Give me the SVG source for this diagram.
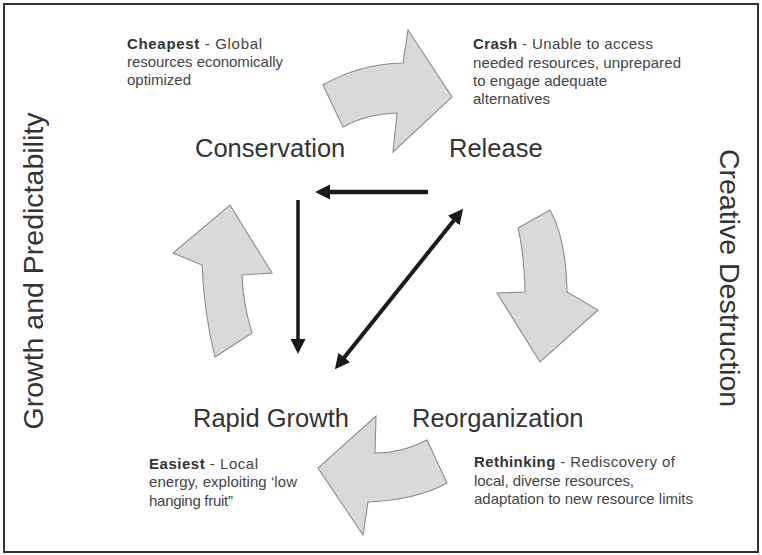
<svg xmlns="http://www.w3.org/2000/svg" width="762" height="555" viewBox="0 0 762 555">
<defs>
<style>
.big{font-family:"Liberation Sans",Arial,sans-serif;font-size:25.5px;fill:#333}
.side{font-family:"Liberation Sans",Arial,sans-serif;font-size:28.5px;fill:#333;text-anchor:middle}
.small{font-family:"Liberation Sans",Arial,sans-serif;font-size:15px;fill:#444}
.small .b{font-weight:bold;fill:#333}
.blk{fill:#d9d9d9;stroke:#8c8c8c;stroke-width:1.1;stroke-linejoin:miter}
.ln{stroke:#1a1a1a;fill:none}
</style>
<marker id="head" markerUnits="userSpaceOnUse" markerWidth="16" markerHeight="16" refX="2" refY="7.5" orient="auto-start-reverse" viewBox="0 0 16 15">
<path d="M0,0 L15,7.5 L0,15 z" fill="#1a1a1a"/>
</marker>
</defs>
<rect x="0" y="0" width="762" height="555" fill="#fff"/>
<rect x="4" y="4" width="754" height="548" fill="none" stroke="#333" stroke-width="2"/>

<g id="side-left">
<text class="side" transform="translate(43,271) rotate(-90)">Growth and Predictability</text>
</g>
<g id="side-right">
<text class="side" transform="translate(720,278) rotate(90)">Creative Destruction</text>
</g>

<g id="connectors">
<path class="blk" d="M323,85 Q359,64 403,63 L408,30 L452,97 L393,152 L397,113 Q366,114 343,127 Z"/>
<path class="blk" d="M518,228 L550,210 Q566,238 567,292 L598,310 L540,362 L497,293 L525,292 Q524,252 518,228 Z"/>
<path class="blk" d="M427,440 Q403,453 375,453 L376,416 L318,468 L363,535 L368,502 Q416,500 447,483 Z"/>
<path class="blk" d="M215,357 L252,333 Q243,304 242,275 L272,273 L230,205 L173,253 L202,265 Q204,313 215,357 Z"/>
<line class="ln" x1="428" y1="192" x2="328" y2="192" stroke-width="4.5" marker-end="url(#head)"/>
<line class="ln" x1="298" y1="200" x2="298" y2="341" stroke-width="3.5" marker-end="url(#head)"/>
<line class="ln" x1="455" y1="219" x2="343" y2="359" stroke-width="4" marker-start="url(#head)" marker-end="url(#head)"/>
</g>

<g id="conservation">
<text class="big" x="195" y="157">Conservation</text>
<text class="small" x="127" y="49" textLength="135"><tspan class="b">Cheapest</tspan> - Global</text>
<text class="small" x="127" y="67" textLength="156">resources economically</text>
<text class="small" x="127" y="85" textLength="64">optimized</text>
</g>

<g id="release">
<text class="big" x="449" y="157">Release</text>
<text class="small" x="473" y="49" textLength="180"><tspan class="b">Crash</tspan> - Unable to access</text>
<text class="small" x="473" y="67.5" textLength="208">needed resources, unprepared</text>
<text class="small" x="473" y="86" textLength="134">to engage adequate</text>
<text class="small" x="473" y="104" textLength="77">alternatives</text>
</g>

<g id="reorganization">
<text class="big" x="412" y="427">Reorganization</text>
<text class="small" x="474" y="467" textLength="201"><tspan class="b">Rethinking</tspan> - Rediscovery of</text>
<text class="small" x="474" y="485.5" textLength="160">local, diverse resources,</text>
<text class="small" x="474" y="504" textLength="219">adaptation to new resource limits</text>
</g>

<g id="rapid-growth">
<text class="big" x="193" y="427">Rapid Growth</text>
<text class="small" x="149" y="468.5" textLength="109"><tspan class="b">Easiest</tspan> - Local</text>
<text class="small" x="149" y="487" textLength="148">energy, exploiting ‘low</text>
<text class="small" x="149" y="505.5" textLength="84">hanging fruit”</text>
</g>
</svg>
